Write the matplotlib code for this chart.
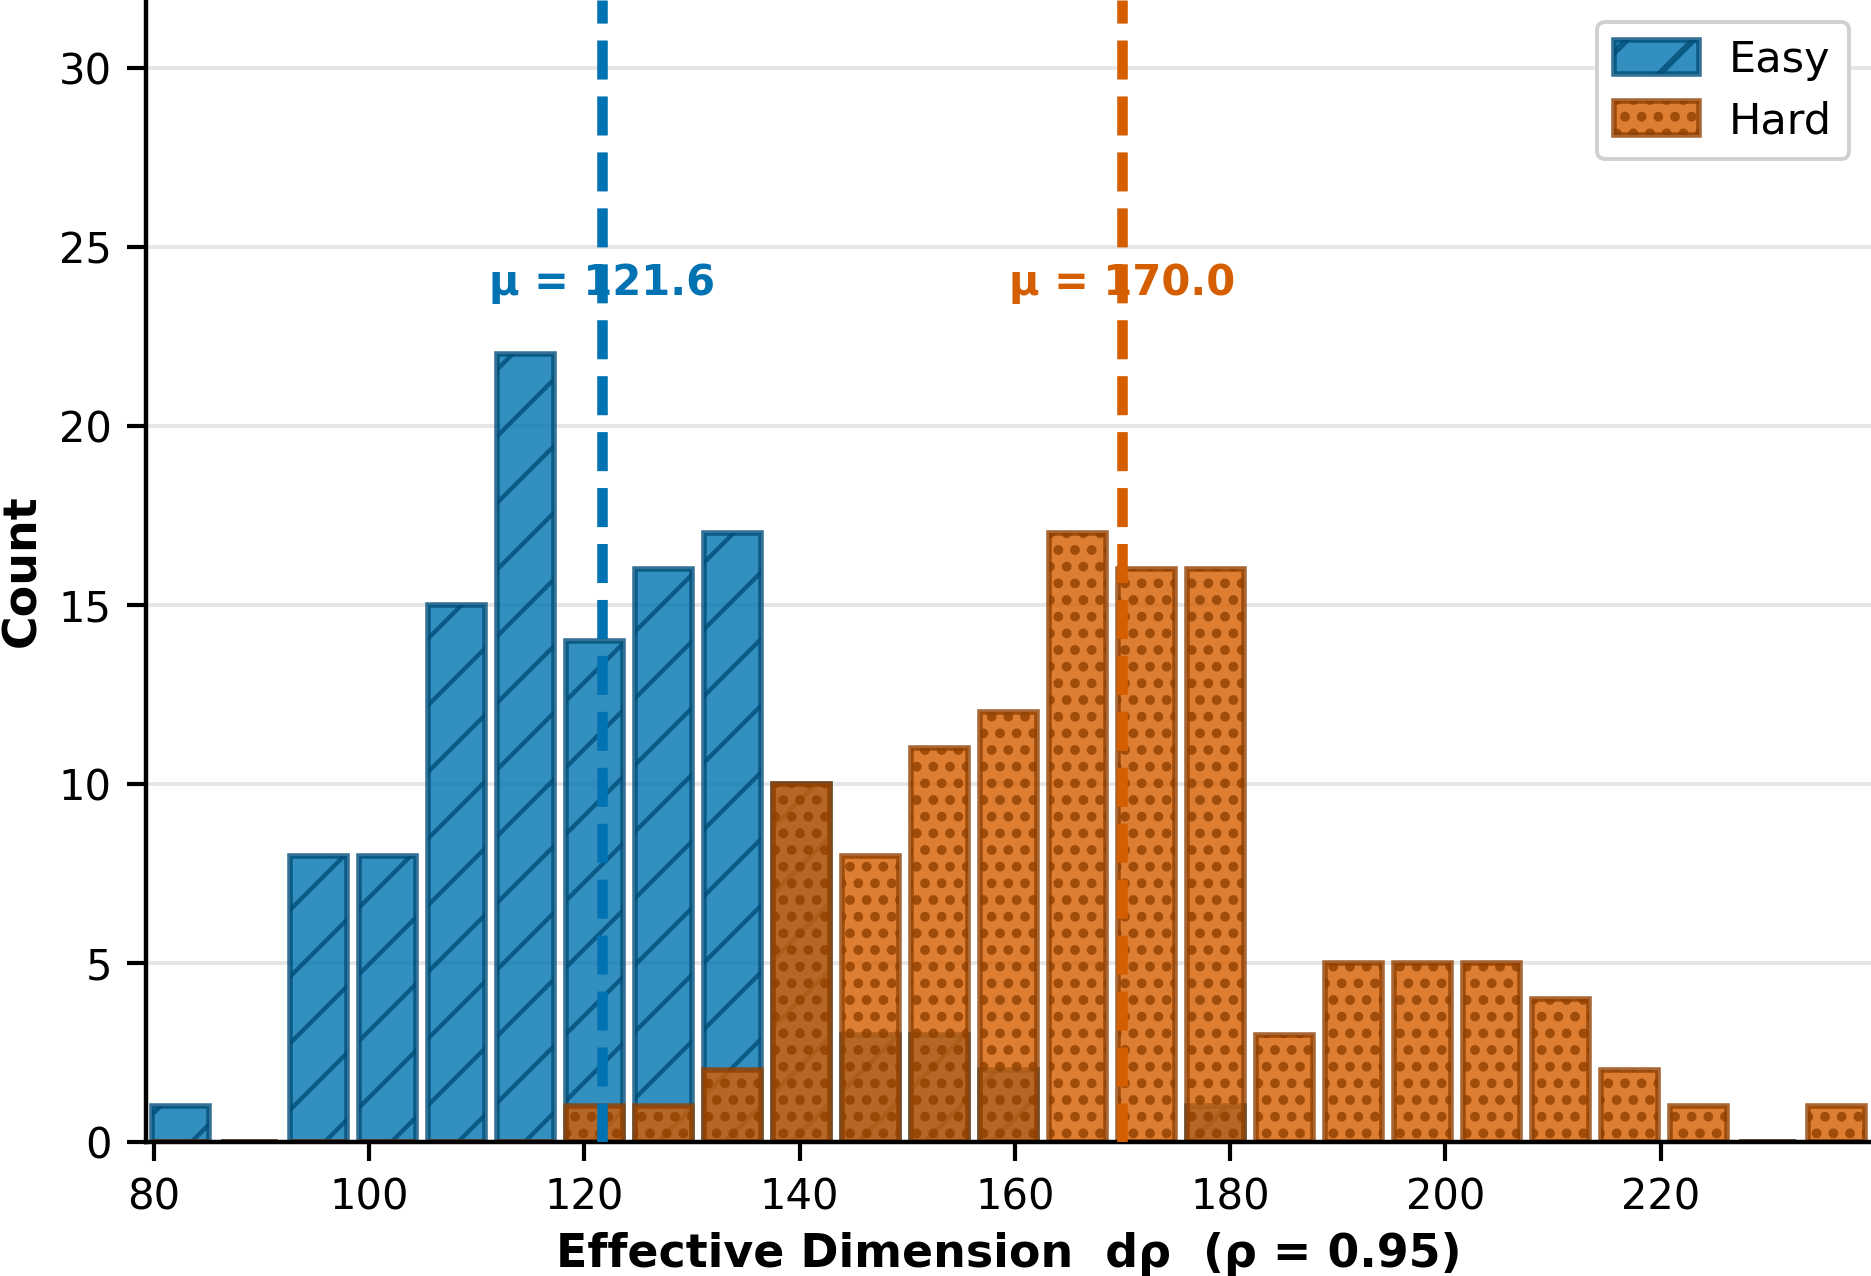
import numpy as np
import matplotlib
matplotlib.use("Agg")
import matplotlib.pyplot as plt
import matplotlib.colors as mcolors

# histogram bins (shared by both groups)
bin_lo = 79.26
bin_hi = 239.56
n_bins = 25

easy_counts = [1, 0, 8, 8, 15, 22, 14, 16, 17, 10, 3, 3, 2, 0, 0, 1,
               0, 0, 0, 0, 0, 0, 0, 0, 0]
hard_counts = [0, 0, 0, 0, 0, 0, 1, 1, 2, 10, 8, 11, 12, 17, 16, 16,
               3, 5, 5, 5, 4, 2, 1, 0, 1]

easy_mean = 121.6
hard_mean = 170.0

labels = ["Easy", "Hard"]
colors = ["#0173b2", "#d55e00"]
hatches = ["/", ".."]
hatch_lw = [1.6, 2.3]
hatch_cols = [(0.19, 0.30, 0.42, 0.55), (0.55, 0.27, 0.08, 0.6)]

plt.rcParams["font.family"] = ["DejaVu Sans"]

fig = plt.figure(figsize=(9.355, 6.38), dpi=200)
ax = fig.add_axes([146 / 1871, 134 / 1276, 1 - 146 / 1871, 1 - 134 / 1276])

edges = np.linspace(bin_lo, bin_hi, n_bins + 1)
centers = (edges[:-1] + edges[1:]) / 2
width = (edges[1] - edges[0]) * 0.82

for counts, lab, c, h, hl, hc in zip([easy_counts, hard_counts], labels,
                                     colors, hatches, hatch_lw, hatch_cols):
    plt.rcParams["hatch.linewidth"] = hl
    face = mcolors.to_rgba(c, 0.8)
    dark = tuple(np.array(mcolors.to_rgb(c)) * 0.68) + (0.8,)
    bars = ax.bar(centers, counts, width=width, color=face, edgecolor=dark,
                  linewidth=2.0, hatch=h, label=lab, zorder=2)
    for p in bars:
        if hasattr(p, "set_hatchcolor"):
            p.set_hatchcolor(hc)

for m, c in zip([easy_mean, hard_mean], colors):
    ax.axvline(m, color=c, linestyle="--", linewidth=3.8, zorder=4)
    ax.text(m, 24, f"μ = {m:.1f}", ha="center", va="center", color=c,
            fontsize=15, fontweight="bold", zorder=3)

ax.set_xlim(bin_lo, bin_hi)
ax.set_ylim(0, max(easy_counts + hard_counts) * 1.45)
ax.set_xticks(np.arange(80, 221, 20))
ax.set_yticks(np.arange(0, 31, 5))

ax.yaxis.grid(True, color="#e6e6e6", linewidth=1.4)
ax.set_axisbelow(True)
for s in ["top", "right"]:
    ax.spines[s].set_visible(False)
for s in ["left", "bottom"]:
    ax.spines[s].set_linewidth(1.6)
ax.tick_params(labelsize=15, length=6.8, width=1.5, pad=5.5)

ax.set_xlabel("Effective Dimension  dρ  (ρ = 0.95)", fontsize=16.5,
              fontweight="bold", labelpad=5)
ax.set_ylabel("Count", fontsize=16.5, fontweight="bold", labelpad=5)

leg = ax.legend(loc="upper right", fontsize=15.5, handlelength=1.97,
                handleheight=0.85, handletextpad=0.7, labelspacing=0.45,
                framealpha=1, fancybox=True)
leg.get_frame().set_edgecolor("#d0d0d0")
leg.get_frame().set_linewidth(1.4)
for p, hc in zip(leg.get_patches(), hatch_cols):
    if hasattr(p, "set_hatchcolor"):
        p.set_hatchcolor(hc)

fig.savefig("out.png", dpi=200)
